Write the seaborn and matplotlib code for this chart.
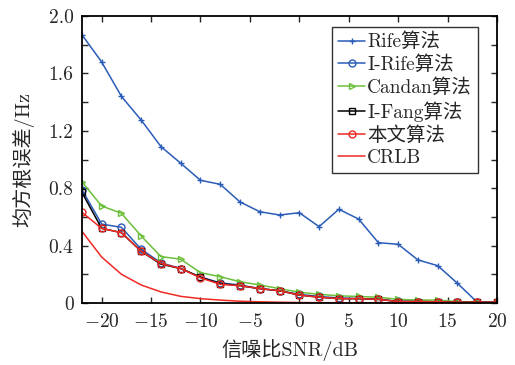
import matplotlib
matplotlib.use('Agg')
import matplotlib.pyplot as plt
import seaborn as sns
import pandas as pd
from matplotlib.ticker import MultipleLocator

### style
sns.set_theme(style='ticks')
plt.rcParams['font.family'] = ['cmr10', 'Noto Sans CJK SC']
plt.rcParams['mathtext.fontset'] = 'cm'
plt.rcParams['axes.formatter.use_mathtext'] = True
plt.rcParams['axes.unicode_minus'] = True

### data
snr = [-22, -20, -18, -16, -14, -12, -10, -8, -6, -4, -2,
       0, 2, 4, 6, 8, 10, 12, 14, 16, 18, 20]
rife = [1.87, 1.68, 1.44, 1.275, 1.09, 0.974, 0.855, 0.827, 0.704, 0.636, 0.613,
        0.629, 0.532, 0.653, 0.585, 0.42, 0.409, 0.30, 0.26, 0.137, 0.005, 0.005]
i_rife = [0.79, 0.55, 0.527, 0.374, 0.28, 0.24, 0.18, 0.14, 0.125, 0.10, 0.085,
          0.06, 0.045, 0.035, 0.03, 0.025, 0.012, 0.01, 0.008, 0.006, 0.005, 0.005]
candan = [0.845, 0.676, 0.625, 0.467, 0.323, 0.305, 0.211, 0.183, 0.148, 0.125, 0.10,
          0.075, 0.06, 0.05, 0.045, 0.04, 0.025, 0.02, 0.02, 0.01, 0.005, 0.005]
i_fang = [0.771, 0.52, 0.49, 0.36, 0.27, 0.24, 0.18, 0.135, 0.12, 0.10, 0.085,
          0.055, 0.04, 0.03, 0.03, 0.025, 0.01, 0.01, 0.008, 0.005, 0.005, 0.005]
proposed = [0.632, 0.52, 0.49, 0.36, 0.275, 0.24, 0.175, 0.13, 0.12, 0.10, 0.085,
            0.055, 0.04, 0.03, 0.03, 0.025, 0.01, 0.01, 0.008, 0.005, 0.005, 0.005]
crlb = [0.50, 0.32, 0.20, 0.125, 0.077, 0.046, 0.03, 0.02, 0.012, 0.008, 0.005,
        0.003, 0.002, 0.0015, 0.001, 0.001, 0.0008, 0.0006, 0.0005, 0.0004, 0.0003, 0.0002]

series = [
    ('Rife算法', rife, '#2a5cb8', '+'),
    ('I-Rife算法', i_rife, '#2a5cb8', 'o'),
    ('Candan算法', candan, '#6cbf3a', '>'),
    ('I-Fang算法', i_fang, 'black', 's'),
    ('本文算法', proposed, '#ee2a24', 'o'),
    ('CRLB', crlb, '#ee2a24', None),
]

fig = plt.figure(figsize=(5.15, 3.65), dpi=100)
ax = fig.add_axes([0.159, 0.170, 0.806, 0.786])

for name, vals, color, marker in series:
    df = pd.DataFrame({'snr': snr, 'val': vals})
    sns.lineplot(data=df, x='snr', y='val', ax=ax, color=color, marker=marker,
                 markersize=5, markerfacecolor='none', markeredgecolor=color,
                 markeredgewidth=1.0, linewidth=1.1, label=name)

ax.set_xlim(-22, 20)
ax.set_ylim(0, 2.0)
ax.xaxis.set_major_locator(MultipleLocator(5))
ax.yaxis.set_major_locator(MultipleLocator(0.4))
ax.yaxis.set_minor_locator(MultipleLocator(0.2))
ax.yaxis.set_major_formatter(plt.FuncFormatter(lambda v, p: '0' if v == 0 else f'{v:.1f}'))
ax.tick_params(direction='in', top=True, right=True, which='both', labelsize=14,
               length=4, width=1.0)
ax.tick_params(axis='x', pad=7)
ax.tick_params(axis='y', pad=6)
for sp in ax.spines.values():
    sp.set_linewidth(1.3)
    sp.set_color('black')

ax.set_xlabel('信噪比SNR/dB', fontsize=14.5, labelpad=6)
ax.set_ylabel('均方根误差/Hz', fontsize=14.5, labelpad=10)

leg = ax.legend(loc='upper right', bbox_to_anchor=(0.954, 0.962), fontsize=14,
                frameon=True, fancybox=False, handlelength=1.4, handletextpad=0.1,
                labelspacing=0.22, borderpad=0.3, borderaxespad=0.0)
leg.get_frame().set_edgecolor('black')
leg.get_frame().set_linewidth(1.0)

fig.savefig('out.png', dpi=100)
